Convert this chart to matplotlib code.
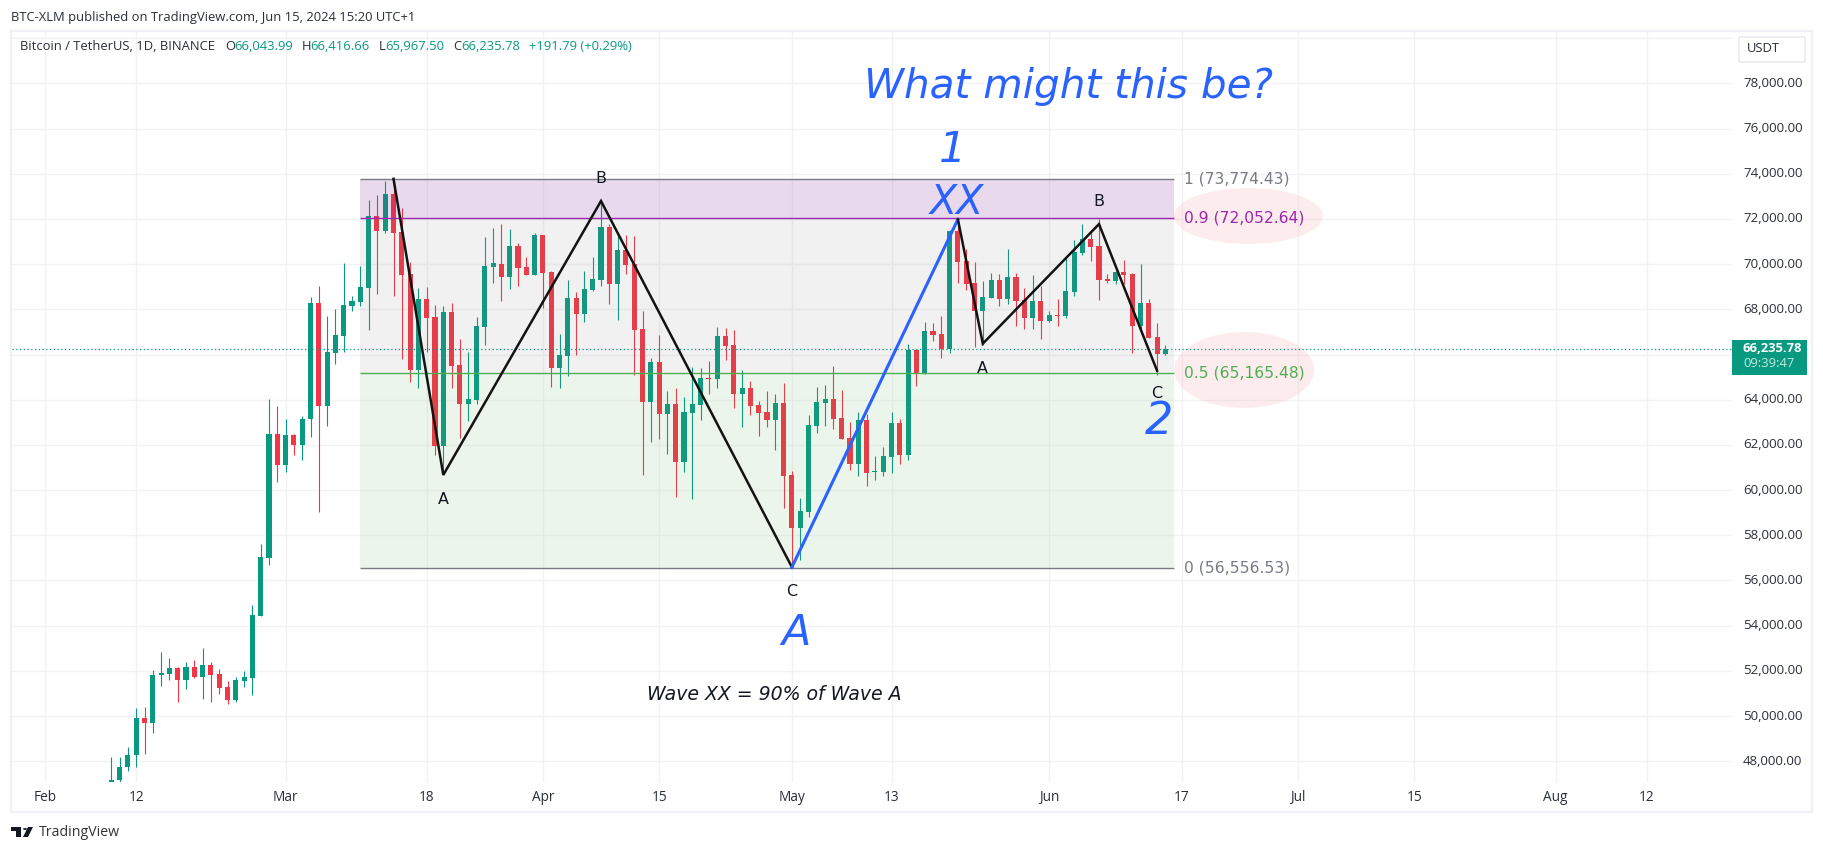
import numpy as np
import pandas as pd
import matplotlib
matplotlib.use('Agg')
import matplotlib.pyplot as plt
import matplotlib.dates as mdates
from matplotlib.patches import Ellipse, Rectangle, FancyBboxPatch, Polygon, Circle

W, H = 1824, 852
UI_FONT = 'Open Sans'
DRAW_FONT = 'DejaVu Sans'

# daily candles, first one is 9 Feb 2024
opens = [45288, 47174, 47751, 48295, 49917, 49699, 51819, 51864, 52140, 51600, 52174, 51732, 52263, 51860, 51290, 50714,
         51555, 51687, 54431, 56983, 62465, 61113, 62421, 61979, 63129, 68262, 63704, 66050, 66802, 68130, 68307, 68926,
         72112, 71448, 73085, 71404, 69545, 65297, 68440, 67644, 61936, 67866, 65521, 63800, 63976, 67205, 69860, 70004,
         69429, 70800, 69871, 69517, 71287, 69650, 65402, 65933, 68500, 67792, 68854, 69296, 71642, 69119, 70624, 70004,
         67128, 63891, 65661, 63360, 63802, 61236, 63404, 63758, 64953, 64910, 66818, 66420, 64252, 64510, 63758, 63448,
         63094, 63846, 60660, 58315, 59024, 62829, 63846, 64023, 63183, 62297, 61147, 63094, 60793, 60793, 61457, 62962,
         61545, 66199, 65181, 67040, 66907, 66243, 71464, 70137, 69163, 67924, 68500, 69296, 68455, 69429, 68411, 67615,
         68367, 67482, 67748, 67703, 68766, 70491, 71110, 70801, 69340, 69252, 69650, 69562, 67261, 68278, 66774, 66044]
highs = [48200, 48190, 48634, 50360, 50404, 52042, 52838, 52572, 52174, 52395, 52484, 53015, 52395, 52085, 51555, 51732,
         51997, 54918, 57617, 64014, 63704, 63129, 62465, 63262, 68528, 69015, 67687, 67997, 70032, 68572, 69900, 72820,
         73041, 73661, 73823, 72466, 70076, 68926, 68970, 68174, 68130, 68264, 66671, 66094, 67648, 71187, 71580, 71774,
         71553, 70934, 70314, 71376, 71287, 69694, 66907, 69296, 68765, 69694, 70314, 72748, 71774, 71273, 71287, 71243,
         67924, 65838, 66860, 64378, 64510, 64112, 65440, 65395, 65705, 67216, 67172, 67084, 65307, 64820, 63935, 64378,
         64245, 64731, 60838, 59643, 63315, 64555, 64643, 65484, 64422, 63006, 63448, 63360, 61501, 61900, 63448, 63138,
         66464, 66199, 67438, 67393, 67703, 71509, 71981, 70668, 70093, 69252, 69606, 69562, 70668, 69606, 68942, 69518,
         69031, 67924, 68455, 70314, 71066, 71774, 71509, 71995, 69562, 69694, 70181, 69591, 70004, 68455, 67393, 66417]
lows = [45200, 46990, 47587, 47764, 48324, 49254, 51333, 51600, 50625, 51200, 51687, 50758, 50625, 50980, 50537, 50625,
        51290, 50935, 54431, 56688, 60360, 60803, 61555, 61334, 62332, 59033, 62820, 65563, 66094, 67908, 68130, 67068,
        68660, 71360, 68572, 65800, 64800, 64534, 66108, 61570, 60775, 64534, 62297, 63047, 63800, 66400, 69147, 68367,
        68898, 69031, 69517, 69517, 68057, 64562, 64517, 65048, 65977, 67438, 68810, 69031, 68234, 67526, 69562, 65093,
        60660, 62121, 62253, 61590, 59687, 60793, 59600, 63094, 64245, 64517, 65756, 63632, 62785, 63315, 62386, 62785,
        61767, 59200, 56590, 56900, 58802, 62519, 62829, 62696, 62253, 60882, 60616, 60174, 60439, 60616, 60749, 61147,
        61324, 64606, 65137, 66597, 65845, 66066, 69163, 68854, 66332, 66420, 68500, 68146, 68234, 67261, 67128, 67128,
        66686, 67438, 67261, 67615, 68588, 70403, 70137, 68411, 69163, 69119, 69119, 66066, 66907, 66730, 65093, 65968]
closes = [47174, 47751, 48295, 49917, 49699, 51819, 51908, 52140, 51600, 52174, 51732, 52263, 51820, 51245, 50714, 51600,
          51732, 54475, 57042, 62465, 61113, 62421, 61979, 63129, 68262, 63704, 66094, 66846, 68174, 68351, 68970, 72112,
          71448, 73085, 71360, 69500, 65297, 68440, 67600, 61936, 67866, 65476, 63800, 64020, 67250, 69904, 70032, 69429,
          70800, 69827, 69517, 71287, 69606, 65402, 65977, 68500, 67792, 68898, 69340, 71642, 69119, 70624, 69960, 67084,
          63898, 65661, 63360, 63802, 61236, 63448, 63802, 64953, 64910, 66818, 66376, 64252, 64510, 63714, 63404, 63094,
          63846, 60616, 58315, 59068, 62873, 63891, 64023, 63138, 62253, 61147, 63094, 60749, 60838, 61501, 62962, 61545,
          66199, 65181, 67040, 66862, 66243, 71464, 70093, 69119, 67924, 68544, 69296, 68455, 69429, 68367, 67615, 68367,
          67482, 67748, 67703, 68810, 70535, 71110, 70757, 69296, 69252, 69650, 69517, 67261, 68278, 66730, 66022, 66236]

# 66,000 and 80,000 have a grid line but no label: the price tag and USDT button sit on them
y_ticks = [48000, 50000, 52000, 54000, 56000, 58000, 60000, 62000, 64000, 66000, 68000, 70000, 72000, 74000, 76000, 78000, 80000]
y_hidden = [66000, 80000]
x_tick_dates = ['2024-02-01', '2024-02-12', '2024-03-01', '2024-03-18', '2024-04-01', '2024-04-15', '2024-05-01',
                '2024-05-13', '2024-06-01', '2024-06-17', '2024-07-01', '2024-07-15', '2024-08-01', '2024-08-12']
x_tick_labels = ['Feb', '12', 'Mar', '18', 'Apr', '15', 'May', '13', 'Jun', '17', 'Jul', '15', 'Aug', '12']

fib_levels = [1, 0.9, 0.5, 0]
fib_prices = [73774.43, 72052.64, 65165.48, 56556.53]
last_price = 66235.78

wave_dates = ['2024-03-14', '2024-03-20', '2024-04-08', '2024-05-01']
wave_prices = [73774, 60670, 72792, 56590]
wave2_dates = ['2024-05-21', '2024-05-24', '2024-06-07', '2024-06-14']
wave2_prices = [71980, 66480, 71770, 65280]

GREEN = '#089981'
RED = '#f23645'
GRID = '#f2f2f5'
FRAME = '#f0f0f6'
TEXT = '#131722'
SOFT = '#2a2e39'
BLUE = '#2962ff'


def d(s):
    return mdates.datestr2num(s)


def fig_text(x, y, s, **kw):
    # x, y in picture pixels
    kw.setdefault('family', UI_FONT)
    kw.setdefault('va', 'center')
    return fig.text(x / W, 1 - y / H, s, **kw)


def fig_rect(x0, y0, x1, y1, **kw):
    fig.add_artist(Rectangle((x0 / W, 1 - y1 / H), (x1 - x0) / W, (y1 - y0) / H,
                             transform=fig.transFigure, **kw))


fig = plt.figure(figsize=(W / 100, H / 100), dpi=100, facecolor='white')
ax = fig.add_axes([12 / W, 1 - 782 / H, (1732 - 12) / W, (782 - 32) / H])

x = mdates.date2num(pd.date_range('2024-02-09', periods=len(closes)))
o = np.array(opens)
c = np.array(closes)
colors = [GREEN if a >= b else RED for a, b in zip(closes, opens)]

ax.vlines(x, lows, highs, colors=colors, lw=0.8, zorder=2)
ax.bar(x, np.abs(c - o), bottom=np.minimum(o, c), width=0.62, color=colors, linewidth=0, zorder=2)

# fib retracement bands
x0, x1 = d('2024-03-10'), d('2024-06-16')
ax.fill_between([x0, x1], fib_prices[1], fib_prices[0], color=(128 / 255, 55 / 255, 150 / 255), alpha=0.18, lw=0, zorder=3)
ax.fill_between([x0, x1], fib_prices[2], fib_prices[1], color=(130 / 255, 130 / 255, 130 / 255), alpha=0.11, lw=0, zorder=3)
ax.fill_between([x0, x1], fib_prices[3], fib_prices[2], color=(88 / 255, 172 / 255, 88 / 255), alpha=0.11, lw=0, zorder=3)
fib_colors = ['#787b86', '#9c27b0', '#4caf50', '#787b86']
for lev, p, col in zip(fib_levels, fib_prices, fib_colors):
    ax.plot([x0, x1], [p, p], color=col, lw=1.0, zorder=4, solid_capstyle='butt')
    ax.text(d('2024-06-17') + 0.2, p, f'{lev} ({p:,.2f})', color=col, fontsize=11.2, family=DRAW_FONT,
            va='center', ha='left', zorder=7)

ax.add_patch(Ellipse((d('2024-06-25'), 72128), 17.95, 2478, color=RED, alpha=0.09, lw=0, zorder=1))
ax.add_patch(Ellipse((d('2024-06-24') + 0.5, 65314), 16.87, 3363, color=RED, alpha=0.09, lw=0, zorder=1))

ax.axhline(last_price, color=GREEN, lw=0.9, ls=(0, (1, 2)), zorder=4)

# wave lines
wx = [d(s) for s in wave_dates]
wx2 = [d(s) for s in wave2_dates]
ax.plot(wx, wave_prices, color='#131313', lw=1.8, zorder=5, solid_joinstyle='miter')
ax.plot([wx[-1], wx2[0]], [wave_prices[-1], wave2_prices[0]], color=BLUE, lw=2.2, zorder=5)
ax.plot(wx2, wave2_prices, color='#131313', lw=1.8, zorder=5, solid_joinstyle='miter')

for lab, xs, p, off in [('A', wx[1], wave_prices[1], -25), ('B', wx[2], wave_prices[2], 23), ('C', wx[3], wave_prices[3], -24),
                        ('A', wx2[1], wave2_prices[1], -25), ('B', wx2[2], wave2_prices[2], 23), ('C', wx2[3], wave2_prices[3], -23)]:
    ax.annotate(lab, (xs, p), xytext=(0, off * 0.72), textcoords='offset points', fontsize=11.5, family=DRAW_FONT,
                color=TEXT, ha='center', va='center', zorder=7)

# big blue notes, in pixels of the picture
for s, px, py, size in [('What might this be?', 1069, 86, 29.2), ('1', 953, 150, 31), ('XX', 957, 202, 28.5),
                        ('A', 796, 633, 31), ('2', 1159, 422, 32)]:
    fig_text(px, py, s, color=BLUE, fontsize=size, family=DRAW_FONT, style='italic', ha='center', zorder=8)
fig_text(774, 695, 'Wave XX = 90% of Wave A', color=TEXT, fontsize=13.6, family=DRAW_FONT, style='italic', ha='center', zorder=8)

ax.set_xlim(d('2024-02-01') + (12 - 44.9) / 8.3, d('2024-02-01') + (1732 - 44.9) / 8.3)
ax.set_ylim(47084, 80270)
ax.yaxis.tick_right()
ax.set_yticks(y_ticks)
ax.set_yticklabels(['' if t in y_hidden else f'{t:,.2f}' for t in y_ticks], fontsize=9.5, color=SOFT, family=UI_FONT, va='center')
ax.set_xticks([d(s) for s in x_tick_dates])
ax.set_xticklabels(x_tick_labels, fontsize=9.8, color=SOFT, family=UI_FONT)
ax.tick_params(axis='both', length=0)
ax.tick_params(axis='y', pad=8)
ax.tick_params(axis='x', pad=6)
ax.grid(True, color=GRID, lw=1.0, zorder=0)
ax.set_axisbelow(True)
for sp in ax.spines.values():
    sp.set_visible(False)

# outer frame
fig_rect(11, 31, 1812.5, 812, fill=False, edgecolor=FRAME, lw=1.6, zorder=10)

# header
fig_text(11, 17, 'BTC-XLM published on TradingView.com, Jun 15, 2024 15:20 UTC+1', color=SOFT, fontsize=9.4)
fig_text(20, 47, 'Bitcoin / TetherUS, 1D, BINANCE', color=SOFT, fontsize=9.4)
for s, px, col in [('O', 225, SOFT), ('66,043.99', 234, GREEN), ('H', 302, SOFT), ('66,416.66', 310, GREEN),
                   ('L', 379, SOFT), ('65,967.50', 385, GREEN), ('C', 453, SOFT), ('66,235.78', 461, GREEN),
                   ('+191.79 (+0.29%)', 529, GREEN)]:
    fig_text(px, 47, s, color=col, fontsize=9.4)

# USDT button and last price tag
fig.add_artist(FancyBboxPatch((1739 / W, 1 - 62 / H), 66 / W, 25 / H, boxstyle='round,pad=0', transform=fig.transFigure,
                              facecolor='white', edgecolor='#e6e8f0', lw=1.0, zorder=9))
fig_text(1747, 49, 'USDT', color=SOFT, fontsize=9.4, zorder=10)
fig_rect(1732, 340, 1807, 375, facecolor=GREEN, edgecolor='none', zorder=9)
fig_text(1743, 348, '66,235.78', color='white', fontsize=9.4, fontweight='bold', zorder=10)
fig_text(1743, 364, '09:39:47', color='#c4e8e0', fontsize=9.4, zorder=10)

# TradingView mark at the bottom
LOGO = '#131722'
fig_rect(11, 827, 21, 831, facecolor=LOGO, edgecolor='none')
fig_rect(16, 827, 21, 837, facecolor=LOGO, edgecolor='none')
fig.add_artist(Circle((25 / W, 1 - 829 / H), 2 / W, transform=fig.transFigure, facecolor=LOGO, edgecolor='none'))
fig.add_artist(Polygon([(28 / W, 1 - 827 / H), (33 / W, 1 - 827 / H), (28 / W, 1 - 837 / H), (23 / W, 1 - 837 / H)],
                       transform=fig.transFigure, facecolor=LOGO, edgecolor='none'))
fig_text(39, 832, 'TradingView', color='#333333', fontsize=10.2)

fig.savefig('out.png', dpi=100)
